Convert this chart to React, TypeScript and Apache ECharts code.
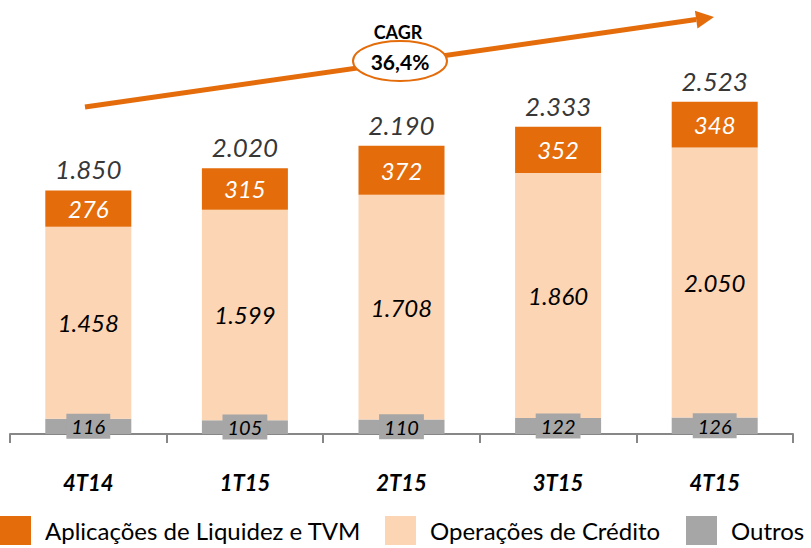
import React, { useEffect, useRef } from "react";
import * as echarts from "echarts";

const categories = ["4T14", "1T15", "2T15", "3T15", "4T15"];
const outros = [116, 105, 110, 122, 126];
const credito = [1458, 1599, 1708, 1860, 2050];
const aplicacoes = [276, 315, 372, 352, 348];
const totals = [1850, 2020, 2190, 2333, 2523];
const seriesNames = ["Aplicações de Liquidez e TVM", "Operações de Crédito", "Outros"];

const ORANGE = "#E46C0A";
const PEACH = "#FCD5B5";
const GRAY = "#A6A6A6";
const FONT = "Lato";

const fmt = (n: number) => String(n).replace(/\B(?=(\d{3})+(?!\d))/g, ".");

export default function App() {
  const ref = useRef<HTMLDivElement>(null);
  useEffect(() => {
    document.body.style.margin = "0";
    const chart = echarts.init(ref.current!, null, { renderer: "svg" });
    // arrow geometry (annotation)
    const sx = 85, sy = 107, tx = 714, ty = 17;
    const dx = tx - sx, dy = ty - sy;
    const len = Math.sqrt(dx * dx + dy * dy);
    const ux = dx / len, uy = dy / len;
    const nx = -uy, ny = ux;
    const hl = 18, hw = 9;
    const bx = tx - hl * ux, by = ty - hl * uy;
    const legendBase = {
      top: 516,
      itemWidth: 31,
      itemHeight: 29,
      icon: "rect",
      selectedMode: false,
      padding: 0,
      textStyle: {
        fontFamily: FONT,
        fontSize: 24,
        lineHeight: 29,
        color: "#000",
        padding: [0, 0, 0, 9],
      },
    };
    chart.setOption({
      animation: false,
      textStyle: { fontFamily: FONT },
      grid: { left: 10, right: 18, top: 39, bottom: 114 },
      legend: [
        { ...legendBase, left: 0, data: [seriesNames[0]] },
        { ...legendBase, left: 385, data: [seriesNames[1]] },
        { ...legendBase, left: 686, data: [seriesNames[2]] },
      ],
      xAxis: {
        type: "category",
        data: categories,
        axisLine: { show: true, lineStyle: { color: "#878787", width: 2 } },
        axisTick: {
          show: true,
          alignWithLabel: false,
          interval: 0,
          length: 9,
          lineStyle: { color: "#878787", width: 2 },
        },
        axisLabel: {
          margin: 37,
          fontFamily: FONT,
          fontSize: 22,
          fontWeight: "bold",
          fontStyle: "italic",
          color: "#000",
        },
      },
      yAxis: { type: "value", min: 0, max: 3000, show: false, splitLine: { show: false } },
      series: [
        {
          name: seriesNames[2],
          type: "bar",
          stack: "t",
          barWidth: 86,
          data: outros,
          itemStyle: { color: GRAY },
          label: {
            show: true,
            position: "inside",
            formatter: (p: any) => fmt(p.value),
            fontFamily: FONT,
            fontSize: 20,
            fontStyle: "italic",
            color: "#000",
            backgroundColor: GRAY,
            padding: [3, 5, 2, 5],
          },
        },
        {
          name: seriesNames[1],
          type: "bar",
          stack: "t",
          barWidth: 86,
          data: credito,
          itemStyle: { color: PEACH },
          label: {
            show: true,
            position: "inside",
            formatter: (p: any) => fmt(p.value),
            fontFamily: FONT,
            fontSize: 24,
            fontStyle: "italic",
            color: "#000",
          },
        },
        {
          name: seriesNames[0],
          type: "bar",
          stack: "t",
          barWidth: 86,
          data: aplicacoes,
          itemStyle: { color: ORANGE },
          label: {
            show: true,
            position: "inside",
            formatter: (p: any) => fmt(p.value),
            fontFamily: FONT,
            fontSize: 24,
            fontStyle: "italic",
            color: "#fff",
          },
        },
        {
          name: "Total",
          type: "scatter",
          data: totals,
          symbolSize: 0,
          z: 5,
          label: {
            show: true,
            position: "top",
            distance: 8,
            formatter: (p: any) => fmt(p.value),
            fontFamily: FONT,
            fontSize: 26,
            fontStyle: "italic",
            color: "#000",
          },
        },
      ],
      graphic: [
        {
          type: "line",
          z: 10,
          shape: { x1: sx, y1: sy, x2: bx, y2: by },
          style: { stroke: ORANGE, lineWidth: 5 },
        },
        {
          type: "polygon",
          z: 10,
          shape: {
            points: [
              [tx, ty],
              [bx + hw * nx, by + hw * ny],
              [bx - hw * nx, by - hw * ny],
            ],
          },
          style: { fill: ORANGE },
        },
        {
          type: "ellipse",
          z: 11,
          shape: { cx: 400, cy: 61, rx: 47, ry: 20 },
          style: { fill: "#fff", stroke: ORANGE, lineWidth: 2 },
        },
        {
          type: "text",
          z: 12,
          x: 398,
          y: 32,
          style: {
            text: "CAGR",
            fontFamily: FONT,
            fontSize: 18,
            fontWeight: "bold",
            fill: "#000",
            textAlign: "center",
            textVerticalAlign: "middle",
          },
        },
        {
          type: "text",
          z: 12,
          x: 400,
          y: 61,
          style: {
            text: "36,4%",
            fontFamily: FONT,
            fontSize: 21,
            fontWeight: "bold",
            fill: "#000",
            textAlign: "center",
            textVerticalAlign: "middle",
          },
        },
      ],
    });
    return () => chart.dispose();
  }, []);
  return <div ref={ref} style={{ width: 811, height: 548 }} />;
}
